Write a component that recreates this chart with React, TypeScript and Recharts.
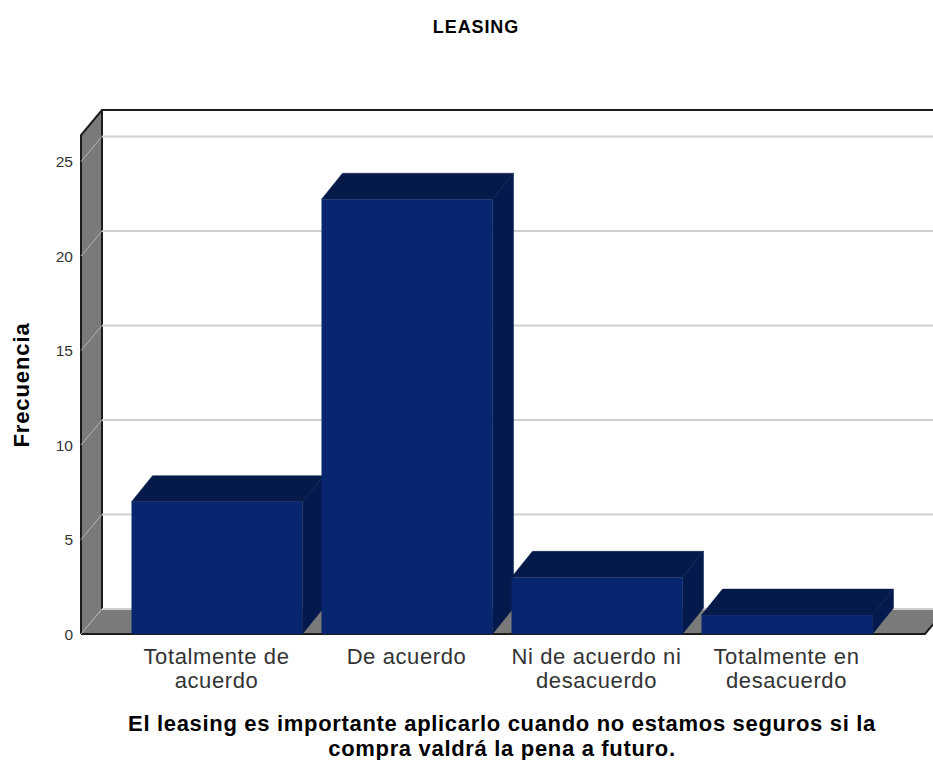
import React from "react";
import { BarChart, Bar, XAxis, YAxis, CartesianGrid, Customized, usePlotArea } from "recharts";

const categories = ["Totalmente de acuerdo", "De acuerdo", "Ni de acuerdo ni desacuerdo", "Totalmente en desacuerdo"];
const tickLines = [["Totalmente de", "acuerdo"], ["De acuerdo"], ["Ni de acuerdo ni", "desacuerdo"], ["Totalmente en", "desacuerdo"]];
const frequencies = [7, 23, 3, 1];
const yTicks = [0, 5, 10, 15, 20, 25];
const title = "LEASING";
const yTitle = "Frecuencia";
const xTitleLines = ["El leasing es importante aplicarlo cuando no estamos seguros si la", "compra valdrá la pena a futuro."];

const rows = categories.map((c, i) => ({ category: c, value: frequencies[i] }));

const DX = 21;
const DY = 25;
const FONT = "'Liberation Sans', Arial, sans-serif";
const EDGE = "#1c1c1c";
const WALL = "#7a7a7a";

function Walls() {
  const p = usePlotArea();
  if (!p) return null;
  const l = p.x, r = p.x + p.width, t = p.y, b = p.y + p.height;
  return (
    <g>
      <polygon points={`${l},${t} ${l + DX},${t - DY} ${l + DX},${b - DY} ${l},${b}`} fill={WALL} />
      <polygon points={`${l},${b} ${r},${b} ${r + DX},${b - DY} ${l + DX},${b - DY}`} fill={WALL} />
      <polyline points={`${l},${b} ${l},${t} ${l + DX},${t - DY} ${r + DX},${t - DY}`} fill="none" stroke={EDGE} strokeWidth={2} />
      <line x1={l + DX} y1={t - DY} x2={l + DX} y2={b - DY} stroke={EDGE} strokeWidth={2} />
      <polyline points={`${l},${b} ${r},${b} ${r + DX},${b - DY}`} fill="none" stroke={EDGE} strokeWidth={2} />
    </g>
  );
}

function GridLine(props: any) {
  const { x1, x2, y1 } = props;
  return (
    <g>
      <line x1={x1} y1={y1} x2={x1 + DX} y2={y1 - DY} stroke="#b5b5b5" strokeWidth={1} />
      <line x1={x1 + DX} y1={y1 - DY} x2={x2 + DX} y2={y1 - DY} stroke="#cfcfcf" strokeWidth={2} />
    </g>
  );
}

function Bar3D(props: any) {
  const { x, y, width, height } = props;
  const dy = 26;
  return (
    <g>
      <polygon points={`${x},${y} ${x + DX},${y - dy} ${x + width + DX},${y - dy} ${x + width},${y}`} fill="#061a4a" stroke="#061a4a" strokeWidth={0.5} />
      <polygon points={`${x + width},${y} ${x + width + DX},${y - dy} ${x + width + DX},${y + height - dy} ${x + width},${y + height}`} fill="#051a4c" stroke="#051a4c" strokeWidth={0.5} />
      <rect x={x} y={y} width={width} height={height} fill="#08266f" />
    </g>
  );
}

function XTick(props: any) {
  const { x, y, index } = props;
  return (
    <text x={x} y={y} textAnchor="middle" fontFamily={FONT} fontSize={22} letterSpacing={0.6} fill="#333">
      {tickLines[index].map((line, i) => (
        <tspan key={i} x={x} y={y + 22 + i * 24}>{line}</tspan>
      ))}
    </text>
  );
}

function YTick(props: any) {
  const { y, payload } = props;
  return (
    <text x={73} y={y + 6} textAnchor="end" fontFamily={FONT} fontSize={15.5} fill="#333">{payload.value}</text>
  );
}

export default function App() {
  return (
    <div style={{ position: "absolute", left: 0, top: 0, width: 933, height: 760, background: "#fff" }}>
      <BarChart width={933} height={760} data={rows} margin={{ top: 135, right: 8, bottom: 0, left: 0 }} barSize={171}>
        <Customized component={Walls} />
        <CartesianGrid horizontal={(p: any) => <GridLine {...p} />} vertical={false} syncWithTicks {...({ zIndex: 50 } as any)} />
        <XAxis dataKey="category" height={126} axisLine={false} tickLine={false} tick={<XTick />} interval={0} padding={{ left: 40.5, right: 43.5 }} />
        <YAxis width={81} domain={[0, 26.4]} ticks={yTicks} axisLine={false} tickLine={false} tick={<YTick />} />
        <Bar dataKey="value" shape={<Bar3D />} isAnimationActive={false} />
        <text x={476} y={33} textAnchor="middle" fontFamily={FONT} fontSize={18} letterSpacing={0.9} fontWeight="bold" fill="#000">{title}</text>
        <text transform="translate(29,385) rotate(-90)" textAnchor="middle" fontFamily={FONT} fontSize={22} letterSpacing={0.9} fontWeight="bold" fill="#000">{yTitle}</text>
        <text x={502} y={731} textAnchor="middle" fontFamily={FONT} fontSize={22} letterSpacing={0.68} fontWeight="bold" fill="#000">{xTitleLines[0]}</text>
        <text x={502} y={756} textAnchor="middle" fontFamily={FONT} fontSize={22} letterSpacing={0.68} fontWeight="bold" fill="#000">{xTitleLines[1]}</text>
      </BarChart>
    </div>
  );
}
